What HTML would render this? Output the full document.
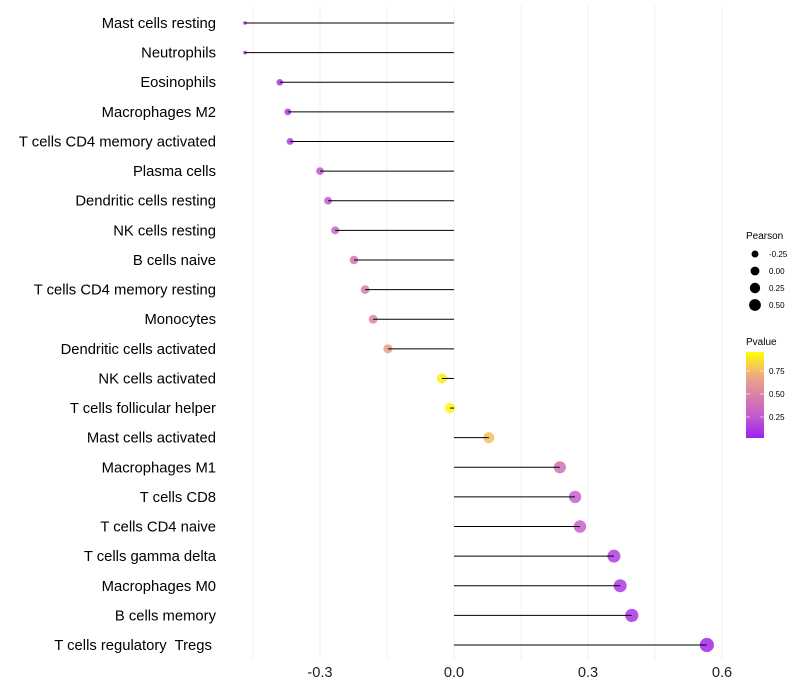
<!DOCTYPE html>
<html><head><meta charset="utf-8"><style>
body{margin:0;background:#fff;}
svg{display:block;font-family:"Liberation Sans",sans-serif;}
</style></head><body>
<svg id="chart" width="800" height="700"></svg>
<script>
const categories=["Mast cells resting","Neutrophils","Eosinophils","Macrophages M2","T cells CD4 memory activated","Plasma cells","Dendritic cells resting","NK cells resting","B cells naive","T cells CD4 memory resting","Monocytes","Dendritic cells activated","NK cells activated","T cells follicular helper","Mast cells activated","Macrophages M1","T cells CD8","T cells CD4 naive","T cells gamma delta","Macrophages M0","B cells memory","T cells regulatory  Tregs "];
const pearson=[-0.468,-0.468,-0.39,-0.372,-0.367,-0.30,-0.282,-0.266,-0.224,-0.199,-0.181,-0.148,-0.027,-0.009,0.078,0.237,0.271,0.282,0.358,0.372,0.398,0.566];
const pvalue=[0.02,0.02,0.10,0.12,0.13,0.22,0.27,0.32,0.42,0.47,0.52,0.66,0.95,0.97,0.80,0.40,0.30,0.28,0.13,0.11,0.09,0.03];
const xTicks=[-0.3,0.0,0.3,0.6];
const xTickLabels=["-0.3","0.0","0.3","0.6"];
const gridVals=[-0.45,-0.3,-0.15,0,0.15,0.3,0.45,0.6];
const sizeLegend=[-0.25,0,0.25,0.5];
const sizeLegendLabels=["-0.25","0.00","0.25","0.50"];
const pLegend=[0.25,0.5,0.75];
const pLegendLabels=["0.25","0.50","0.75"];

const NS="http://www.w3.org/2000/svg";
const svg=document.getElementById('chart');
const x=v=>454+v*446.7;
const y=i=>23+i*29.62;
const rad=v=>{const r2=22.4+34.4*v;return v<-0.44?1.8:1.1*Math.sqrt(Math.max(1,r2));};
const stops=[[0,[160,32,240]],[0.25,[195,90,208]],[0.5,[219,128,168]],[0.75,[239,176,122]],[1,[255,255,0]]];
function col(p){p=Math.max(0,Math.min(1,p));for(let k=1;k<stops.length;k++){if(p<=stops[k][0]){const a=stops[k-1],b=stops[k],t=(p-a[0])/(b[0]-a[0]);return 'rgb('+a[1].map((c,j)=>Math.round(c+(b[1][j]-c)*t)).join(',')+')';}}return 'rgb(255,255,0)';}
function el(t,a,p){const e=document.createElementNS(NS,t);for(const k in a)e.setAttribute(k,a[k]);(p||svg).appendChild(e);return e;}

gridVals.forEach(v=>{const g=el('line',{x1:x(v),x2:x(v),y1:5,y2:660,stroke:'#f2f2f2','stroke-width':1});

});

categories.forEach((c,i)=>{
 const t=el('text',{x:216,y:y(i)+5,'text-anchor':'end','font-size':14.8,fill:'#000'});t.textContent=c;
 t.setAttribute('style','white-space:pre');
 
 
 const pt=el('circle',{cx:x(pearson[i]),cy:y(i),r:rad(pearson[i]),fill:col(pvalue[i]),'fill-opacity':0.85});
 
 
 const ln=el('line',{x1:x(0),x2:x(pearson[i]),y1:y(i),y2:y(i),stroke:'#000','stroke-width':1});
 
 
});

xTicks.forEach((v,i)=>{const t=el('text',{x:x(v),y:677,'text-anchor':'middle','font-size':14.6,fill:'#222'});t.textContent=xTickLabels[i];

});

const lt=el('text',{x:746,y:239,'font-size':10,fill:'#000'});lt.textContent='Pearson';


sizeLegend.forEach((v,i)=>{const cy=254+i*17;
 const c=el('circle',{cx:755,cy:cy,r:rad(v)*0.85,fill:'#000'});
 
 
 const t=el('text',{x:769,y:cy+3,'font-size':8,fill:'#000'});t.textContent=sizeLegendLabels[i];
 
 });

const pt2=el('text',{x:746,y:345,'font-size':10,fill:'#000'});pt2.textContent='Pvalue';


const defs=el('defs',{});const lg=el('linearGradient',{id:'pg',x1:0,y1:1,x2:0,y2:0},defs);
stops.forEach(s=>el('stop',{offset:s[0],'stop-color':col(s[0])},lg));
const bar=el('rect',{x:746,y:352,width:18,height:86,fill:'url(#pg)'});


const py=p=>440-p*92;
pLegend.forEach((p,i)=>{
 el('line',{x1:746,x2:750,y1:py(p),y2:py(p),stroke:'#fff','stroke-width':0.6});
 el('line',{x1:760,x2:764,y1:py(p),y2:py(p),stroke:'#fff','stroke-width':0.6});
 const t=el('text',{x:769,y:py(p)+3,'font-size':8,fill:'#000'});t.textContent=pLegendLabels[i];
 
 });
</script>
</body></html>
